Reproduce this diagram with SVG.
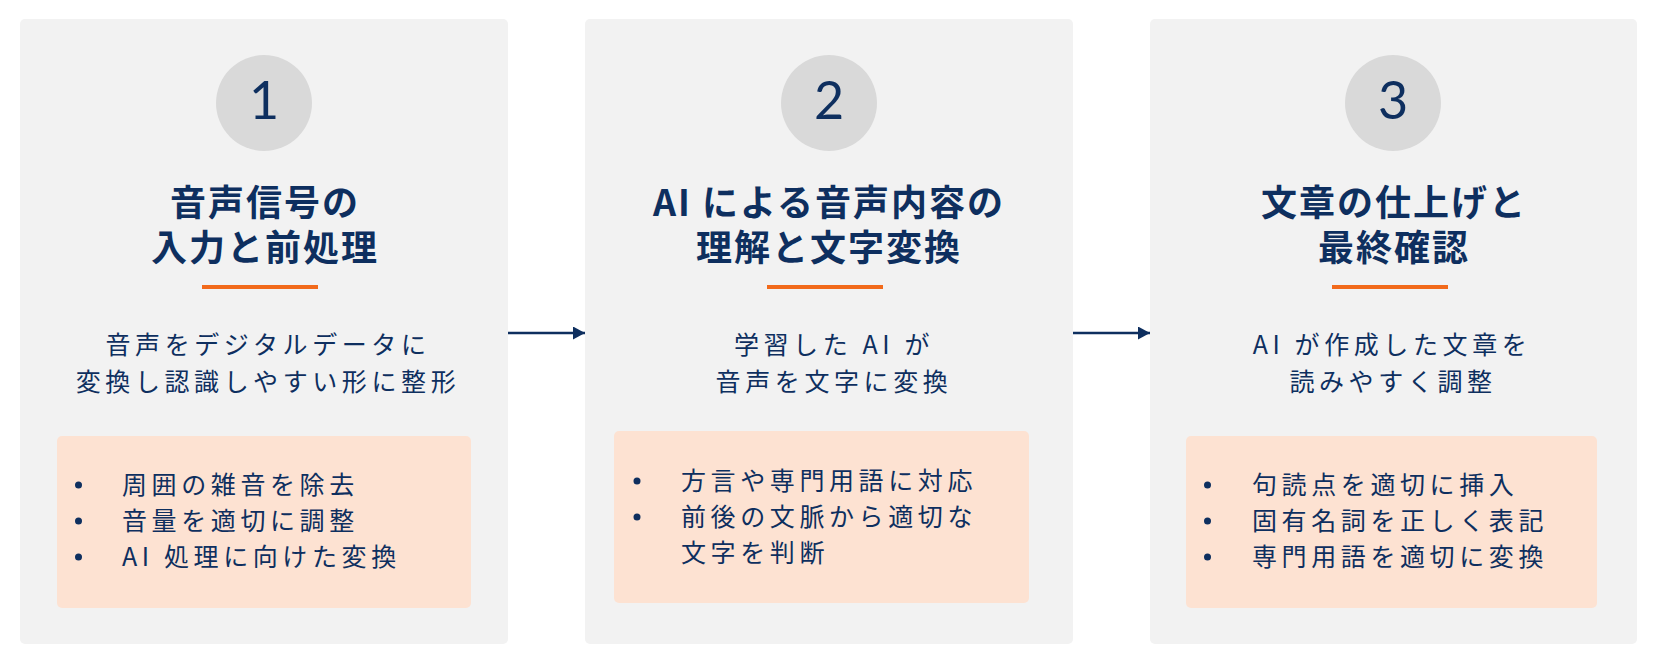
<svg xmlns="http://www.w3.org/2000/svg" width="1658" height="668" viewBox="0 0 1658 668">
<style>
.panel{fill:#F2F2F2}
.badge{fill:#D9D9D9}
.num{font-family:Lato,"Noto Sans",sans-serif;font-size:52px;fill:#0E2F5F;text-anchor:middle}
.title{font-family:"Noto Sans CJK JP",sans-serif;font-size:36px;font-weight:700;fill:#0E2F5F;text-anchor:middle;letter-spacing:2px}
.rule{fill:#F26A1B}
.desc{font-family:"Noto Sans CJK JP",sans-serif;font-size:25px;fill:#0E2F5F;text-anchor:middle;letter-spacing:4.6px}
.box{fill:#FDE2D2}
.item{font-family:"Noto Sans CJK JP",sans-serif;font-size:25px;fill:#0E2F5F;letter-spacing:4.6px}
.dot{fill:#0E2F5F}
.conn{stroke:#0E2F5F;stroke-width:2.5;fill:none}
</style>
<defs>
<marker id="ah" viewBox="0 0 12 13" refX="12" refY="6.5" markerWidth="12" markerHeight="13" markerUnits="userSpaceOnUse" orient="auto">
<path d="M0,0 L12,6.5 L0,13 Z" fill="#0E2F5F"/>
</marker>
</defs>
<rect width="1658" height="668" fill="#FFFFFF"/>

<g id="step1">
<rect class="panel" x="20" y="19" width="488" height="625" rx="5"/>
<circle class="badge" cx="264" cy="103" r="48"/>
<text class="num" x="264" y="119">1</text>
<text class="title" x="265" y="216">音声信号の</text>
<text class="title" x="265" y="261">入力と前処理</text>
<rect class="rule" x="202" y="285" width="116" height="4"/>
<text class="desc" x="268" y="354">音声をデジタルデータに</text>
<text class="desc" x="268" y="391">変換し認識しやすい形に整形</text>
<rect class="box" x="57" y="436" width="414" height="172" rx="5"/>
<circle class="dot" cx="78.5" cy="485" r="3.5"/>
<circle class="dot" cx="78.5" cy="521" r="3.5"/>
<circle class="dot" cx="78.5" cy="557" r="3.5"/>
<text class="item" x="122" y="494">周囲の雑音を除去</text>
<text class="item" x="122" y="530">音量を適切に調整</text>
<text class="item" x="122" y="566">AI 処理に向けた変換</text>
</g>

<g id="step2">
<rect class="panel" x="585" y="19" width="488" height="625" rx="5"/>
<circle class="badge" cx="829" cy="103" r="48"/>
<text class="num" x="829" y="119">2</text>
<text class="title" x="829" y="216">AI による音声内容の</text>
<text class="title" x="829" y="261">理解と文字変換</text>
<rect class="rule" x="767" y="285" width="116" height="4"/>
<text class="desc" x="834" y="354">学習した AI が</text>
<text class="desc" x="834" y="391">音声を文字に変換</text>
<rect class="box" x="614" y="431" width="415" height="172" rx="5"/>
<circle class="dot" cx="637" cy="481" r="3.5"/>
<circle class="dot" cx="637" cy="517" r="3.5"/>
<text class="item" x="681" y="490">方言や専門用語に対応</text>
<text class="item" x="681" y="526">前後の文脈から適切な</text>
<text class="item" x="681" y="562">文字を判断</text>
</g>

<g id="step3">
<rect class="panel" x="1150" y="19" width="487" height="625" rx="5"/>
<circle class="badge" cx="1393" cy="103" r="48"/>
<text class="num" x="1393" y="119">3</text>
<text class="title" x="1394" y="216">文章の仕上げと</text>
<text class="title" x="1394" y="261">最終確認</text>
<rect class="rule" x="1332" y="285" width="116" height="4"/>
<text class="desc" x="1392" y="354">AI が作成した文章を</text>
<text class="desc" x="1393" y="391">読みやすく調整</text>
<rect class="box" x="1186" y="436" width="411" height="172" rx="5"/>
<circle class="dot" cx="1207.5" cy="485" r="3.5"/>
<circle class="dot" cx="1207.5" cy="521" r="3.5"/>
<circle class="dot" cx="1207.5" cy="557" r="3.5"/>
<text class="item" x="1252" y="494">句読点を適切に挿入</text>
<text class="item" x="1252" y="530">固有名詞を正しく表記</text>
<text class="item" x="1252" y="566">専門用語を適切に変換</text>
</g>

<g id="connectors">
<line class="conn" x1="508" y1="333" x2="585" y2="333" marker-end="url(#ah)"/>
<line class="conn" x1="1073" y1="333" x2="1150" y2="333" marker-end="url(#ah)"/>
</g>
</svg>
